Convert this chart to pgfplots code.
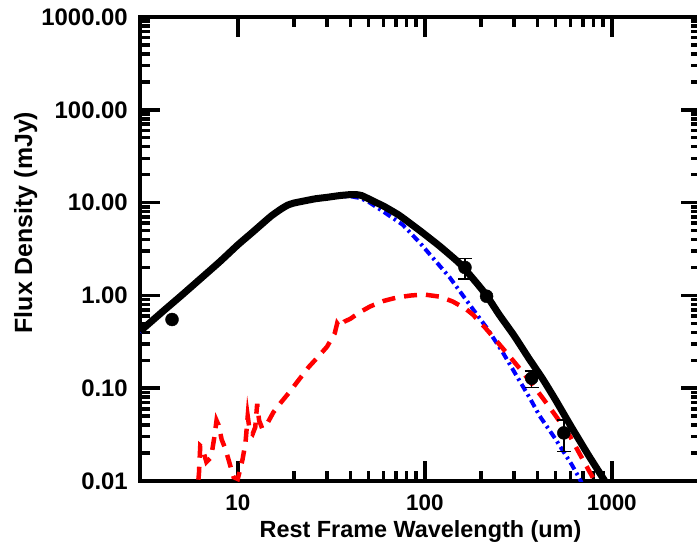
\documentclass[border=0pt]{standalone}
\usepackage{pgfplots}
\pgfplotsset{compat=1.18}
\usepackage{fontspec}
\setmainfont{Liberation Sans}
\begin{document}
\begin{tikzpicture}
\begin{axis}[
  scale only axis, width=561bp, height=464bp,
  xmode=log, ymode=log,
  xmin=3, xmax=3000, ymin=0.01, ymax=1000,
  axis line style={line width=4.5bp},
  tick align=inside,
  major tick length=20bp, minor tick length=10bp,
  tick style={line width=3.5bp, black},
  xtick={10,100,1000}, xticklabels={10,100,1000},
  ytick={0.01,0.1,1,10,100,1000},
  yticklabels={0.01,0.10,1.00,10.00,100.00,1000.00},
  xticklabel style={font=\fontsize{22.5}{22.5}\selectfont\bfseries, inner sep=0pt, yshift=-14bp},
  yticklabel style={font=\fontsize{24}{24}\selectfont\bfseries, inner sep=0pt, xshift=-12bp},
  xlabel={Rest Frame Wavelength (um)},
  ylabel={Flux Density (mJy)},
  xlabel style={font=\fontsize{23.5}{23.5}\selectfont\bfseries, at={(axis description cs:0.5,0)}, anchor=base, yshift=-56bp},
  ylabel style={font=\fontsize{25}{25}\selectfont\bfseries, at={(axis description cs:-0.1925,0.557)}, anchor=base, rotate=0},
]
% cold dust component (blue dash-dot)
\addplot[blue, line width=4bp, dash pattern=on 8bp off 4bp on 2.5bp off 4bp] coordinates {
(3,0.40) (4,0.67) (5,0.99) (6,1.36) (8,2.27) (10,3.45) (12,4.75) (15,7.0) (17,8.4)
(18.5,9.3) (20,9.8) (22,10.2) (26,10.9) (30,11.3) (35,11.7) (40,11.7) (45,11.2)
(50,10.2) (60,8.0) (76,5.8) (94,3.7) (110,2.56) (136,1.56) (181,0.71) (214,0.45)
(261,0.244) (309,0.137) (365,0.078) (412,0.05) (496,0.029) (611,0.015) (658,0.0115) (700,0.009)
};
% warm component (red dashed)
\addplot[red, line width=4.5bp, dash pattern=on 13bp off 9bp] coordinates {
(6.0,0.006) (6.2,0.012) (6.3,0.024) (6.45,0.023) (6.8,0.016) (7.2,0.018) (7.5,0.03)
(7.7,0.045) (7.9,0.04) (8.2,0.028) (8.6,0.022) (9.0,0.016) (9.5,0.011) (10.0,0.0105)
(10.6,0.017) (11.0,0.026) (11.3,0.05) (11.6,0.034) (12.0,0.032) (12.4,0.038) (12.7,0.068)
(13.0,0.045) (13.5,0.037) (14.5,0.043) (15.5,0.055) (17,0.07) (19,0.092) (21,0.12)
(24,0.17) (27,0.22) (30,0.28) (33,0.39) (34,0.5) (35,0.46) (37,0.52) (40,0.56)
(45,0.66) (51,0.76) (60,0.87) (71,0.95) (85,1.0) (100,1.02) (120,0.97) (141,0.86)
(165,0.72) (181,0.62) (210,0.45) (231,0.36) (278,0.232) (334,0.149) (420,0.082)
(496,0.052) (600,0.03) (700,0.017) (790,0.011) (850,0.0085)
};
% total (black solid)
\addplot[black, line width=7bp, smooth, tension=0.3] coordinates {
(3,0.41) (4,0.68) (5,1.0) (6,1.38) (8,2.3) (10,3.5) (12,4.8) (15,7.1) (17,8.5)
(18.5,9.4) (20,9.9) (22,10.3) (26,11.0) (30,11.4) (35,11.9) (40,12.2) (43,12.2)
(46,11.9) (50,11.0) (55,10.0) (60,9.2) (73,7.3) (94,5.0) (120,3.4) (154,2.2)
(190,1.35) (214,1.0) (250,0.62) (300,0.37) (360,0.21) (428,0.125) (500,0.075)
(600,0.04) (750,0.019) (918,0.01) (1000,0.0075)
};
% data points with error bars
\addplot[black, only marks, mark=*, mark size=6.5bp,
  error bars/.cd, y dir=both, y explicit,
  error bar style={line width=1.5bp},
  error mark options={rotate=90, mark size=7bp, line width=1.5bp}]
coordinates {
(164,2.0) +- (0,0.49)
(373,0.128) +- (0,0.026)
(554,0.033) +- (0,0.0122)
};
% data points without visible error bars
\addplot[black, only marks, mark=*, mark size=6.5bp] coordinates {
(4.45,0.55) (214,0.98)
};
\end{axis}
\pgfresetboundingbox
\path[use as bounding box] ([xshift=-140bp,yshift=-60bp]current axis.south west)
  rectangle ([xshift=-4bp,yshift=17bp]current axis.north east);
\end{tikzpicture}
\end{document}
